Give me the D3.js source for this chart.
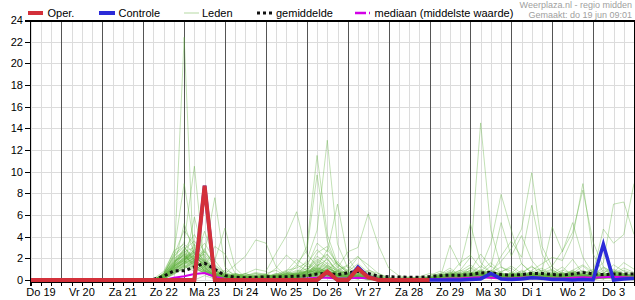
<!DOCTYPE html>
<html>
<head>
<meta charset="utf-8">
<script src="https://cdn.jsdelivr.net/npm/d3@7"></script>
<style>
  body { margin: 0; background: #fff; }
  svg { display: block; font-family: "Liberation Sans", Arial, sans-serif; }
</style>
</head>
<body>
<div id="chart"></div>
<script>
(function () {
  'use strict';

  // dagen op de x-as (label op 12:00)
  var dagLabels = ['Do 19', 'Vr 20', 'Za 21', 'Zo 22', 'Ma 23', 'Di 24', 'Wo 25', 'Do 26',
    'Vr 27', 'Za 28', 'Zo 29', 'Ma 30', 'Di 1', 'Wo 2', 'Do 3'];
  var yTicks = [0, 2, 4, 6, 8, 10, 12, 14, 16, 18, 20, 22, 24];

  // 6-uurs neerslag (mm), oper en controle vanaf do 19 06:00
  var oper = [0, 0, 0, 0, 0, 0, 0, 0, 0, 0, 0, 0, 0, 0, 0, 0,
    0, 8.7, 0, 0, 0, 0, 0, 0, 0, 0, 0, 0, 0, 0.77, 0, 0,
    1.05, 0.25, 0, 0, 0, 0, 0, 0];
  var controle = [0, 0, 0, 0, 0, 0, 0, 0, 0, 0, 0, 0, 0, 0, 0, 0,
    0, 8.7, 0, 0, 0, 0, 0, 0, 0, 0, 0, 0, 0, 0.7, 0, 0,
    1.2, 0.3, 0, 0, 0, 0, 0, 0, 0, 0, 0, 0.05, 0.1, 0.6, 0.1, 0.05,
    0.1, 0.2, 0.15, 0.05, 0.05, 0, 0.05, 0, 3.3, 0, 0.1, 0.15];

  // gemiddelde, mediaan en leden vanaf zo 22 06:00
  var gemiddelde = [0.05, 0.35, 0.85, 0.85, 1.2, 1.55, 1.0, 0.4, 0.25, 0.2, 0.25, 0.3,
    0.28, 0.3, 0.35, 0.4, 0.55, 0.6, 0.5, 0.65, 0.8, 0.6, 0.35, 0.3,
    0.28, 0.25, 0.25, 0.3, 0.4, 0.45, 0.45, 0.5, 0.65, 0.7, 0.5, 0.45,
    0.5, 0.6, 0.6, 0.5, 0.45, 0.55, 0.7, 0.55, 0.5, 0.55, 0.55, 0.55];
  var mediaan = [0, 0, 0.2, 0.35, 0.55, 0.65, 0.3, 0.1, 0.05, 0.05, 0.05, 0.05,
    0.05, 0.1, 0.1, 0.15, 0.2, 0.2, 0.15, 0.15, 0.2, 0.15, 0.1, 0.05,
    0.05, 0, 0.05, 0.1, 0.1, 0.15, 0.15, 0.2, 0.25, 0.2, 0.15, 0.15,
    0.2, 0.25, 0.2, 0.15, 0.15, 0.2, 0.25, 0.2, 0.25, 0.3, 0.25, 0.2];
  var leden = [
    [0,0.3,1.2, 22.4,0,0.4,0.1, 0,0.2,0.1,0, 0,0.1,0.3,0.2, 0.4,1.1,0.6,0.2, 0.1,0.5,0.3,0, 0,0,0.1,0, 0,0.1,0.3,0.5, 0.4,0.9,0.3,0.1, 0.2,0.6,1.3,0.4, 0.1,0.3,0.7,0.2, 0,0.4,0.9,0.5, 0.3],
    [0,0.6,2.1, 3.5,10.5,1.2,0.3, 0.1,0,0.3,0.2, 0.1,0,0.4,0.6, 0.8,2.2,1.5,0.4, 0.2,0.3,0.1,0, 0,0.1,0,0, 0.2,0.4,0.1,0, 0.3,0.8,1.6,0.7, 0.4,0.2,0.5,0.3, 0.6,1.2,0.4,0.1, 0,0.2,0.6,1.1, 0.7],
    [0.1,0.8,2.6, 8.9,3.1,0.6,0.2, 0,0.1,0,0.2, 0.3,0.5,0.2,0.1, 0,0.6,1.3,0.9, 0.5,0.2,0,0, 0.1,0,0,0.2, 0.1,0.3,0.7,0.4, 0.2,0.1,0.5,0.8, 1.1,0.4,0.2,0, 0.3,0.8,1.9,0.6, 0.2,0.1,0.3,0.2, 0.4],
    [0,0.4,1.5, 2.8,4.2,2.5,7.6, 1.2,0.3,0.1,0, 0,0.2,0.6,0.3, 0.2,0.4,0.9,1.7, 0.8,0.3,0.2,0.1, 0,0,0,0, 0,0.2,0.1,0.4, 1.2,0.6,0.3,0.2, 0,0.3,0.8,0.5, 0.2,0.1,0.6,1.3, 0.5,0.2,0.8,0.4, 0.2],
    [0,0.2,0.9, 1.6,2.3,3.4,1.8, 4.8,1.1,0.2,0, 0.1,0.3,0.1,0.6, 1.4,0.7,2.1,0.5, 0.3,0.9,0.4,0.1, 0,0.2,0.3,0.1, 0,0,0.2,0.6, 0.8,0.3,0.1,0.4, 0.6,1.5,0.7,0.2, 0.1,0.5,0.3,0.2, 0.4,1.1,0.5,0.2, 0.1],
    [0,0.1,0.6, 1.1,1.8,0.9,0.4, 0.6,1.4,2.2,3.7, 3.4,1.2,0.4,0.2, 0.3,0.8,0.5,0.2, 0.1,0.4,0.2,0, 0,0.1,0,0, 0.1,0.3,0.8,0.3, 0.2,0.5,0.9,0.3, 0.1,0.2,0.6,0.9, 0.4,0.2,0.1,0.3, 0.8,0.5,0.2,0.1, 0],
    [0,0.5,1.8, 2.2,1.5,2.9,1.1, 0.4,0.2,0.6,1.0, 0.8,2.5,4.1,6.3, 2.4,1.3,0.6,0.8, 0.4,0.2,0.1,0, 0,0.2,0,0, 0,0.1,0.4,0.2, 0.5,0.3,0.7,1.2, 0.6,0.4,0.2,0.1, 0.3,0.6,0.4,0.2, 0.1,0.3,0.5,0.9, 0.6],
    [0,0.3,1.0, 1.9,2.6,1.4,0.5, 0.2,0.1,0,0.2, 0.3,0.1,0.5,1.2, 3.1,11.5,4.2,1.5, 0.6,0.2,0.3,0.1, 0,0,0.1,0.3, 0.2,0.5,1.1,0.4, 0.3,0.2,0.6,0.4, 0.2,0.9,0.5,0.3, 0.8,0.4,0.3,0.2, 0.1,0.2,0.4,0.3, 0.2],
    [0,0.2,0.7, 1.3,0.8,1.6,0.9, 0.3,0,0.2,0.4, 0.6,0.9,0.3,0.7, 1.8,4.6,12.9,3.3, 1.1,0.5,0.2,0, 0.1,0,0,0, 0,0.3,0.2,0.1, 0.4,1.0,0.5,0.2, 0.1,0.3,0.4,0.7, 1.0,0.3,0.5,0.4, 0.2,0.6,1.4,0.8, 0.5],
    [0,0.4,1.3, 2.5,1.1,0.7,0.3, 0.1,0.3,0.6,0.2, 0.4,1.1,2.3,1.5, 2.7,9.7,3.6,1.2, 0.5,0.3,0.1,0, 0,0,0.2,0.1, 0,0.1,0.5,0.9, 0.6,0.4,0.2,0.5, 0.3,0.2,0.7,1.1, 0.4,0.2,0.8,0.5, 0.3,0.9,0.6,0.2, 0.1],
    [0,0.1,0.8, 1.7,3.3,2.0,0.8, 0.5,0.2,0.1,0, 0.2,0.4,0.8,1.9, 1.2,3.4,2.6,7.0, 2.1,0.6,0.2,0.1, 0,0.1,0,0, 0.2,0.3,0.1,0.2, 0.7,0.5,1.3,0.6, 0.2,0.1,0.3,0.6, 0.9,0.5,0.2,0.1, 0,0.3,0.7,1.6, 1.0],
    [0,0.2,1.1, 2.0,2.8,1.3,0.6, 0.3,0.5,0.2,0.1, 0,0.3,0.6,1.4, 0.9,1.8,2.4,1.1, 2.6,3.0,6.1,3.2, 1.1,0.4,0.2,0, 0.1,0.2,0.6,0.3, 0.2,0.8,0.4,0.3, 0.5,0.3,0.2,0.4, 0.2,0.7,0.3,0.5, 0.2,0.1,0.4,0.3, 0.2],
    [0,0.6,2.4, 3.1,1.7,0.9,0.3, 0.2,0,0.4,0.7, 0.5,0.2,0.1,0.4, 1.5,2.8,1.9,0.9, 1.4,2.2,1.0,0.4, 0.2,0.3,0.1,0, 0,0.1,3.2,1.3, 5.2,1.6,0.7,0.3, 0.2,0.5,0.3,0.2, 0.4,0.2,0.5,0.8, 0.6,0.3,0.2,0.1, 0.3],
    [0,0.3,1.4, 2.4,1.9,1.0,0.5, 0.2,0.4,0.1,0, 0.1,0.2,0.5,0.9, 0.6,1.2,0.8,0.4, 0.3,0.5,0.9,0.6, 0.2,0.1,0,0.1, 0.3,0.2,0.5,0.9, 2.1,14.5,4.6,1.2, 0.8,0.4,0.6,0.3, 0.2,0.5,0.9,0.4, 0.3,0.2,0.6,0.4, 0.3],
    [0,0.2,0.9, 1.4,2.1,1.5,0.7, 0.3,0.1,0,0.2, 0.4,0.3,0.1,0.2, 0.5,1.6,2.3,1.4, 0.7,0.4,0.2,0.1, 0,0,0.1,0.2, 0.4,0.8,0.5,1.6, 2.3,1.1,3.4,7.9, 4.6,1.5,0.6,0.3, 0.1,0.4,0.2,0.6, 0.9,0.5,0.3,0.2, 0.4],
    [0,0.1,0.5, 1.2,1.9,2.7,1.3, 0.6,0.3,0.2,0.1, 0.2,0.6,0.4,0.3, 0.8,0.5,1.1,0.7, 0.4,0.3,0.5,0.2, 0.1,0,0.2,0.3, 0.6,0.4,0.2,0.5, 0.9,2.4,1.2,5.3, 2.2,4.1,1.8,0.7, 0.3,0.2,0.4,0.3, 0.5,1.2,0.7,0.4, 0.2],
    [0,0.4,1.6, 2.9,2.2,1.8,0.9, 0.4,0.1,0.3,0.6, 0.3,0.1,0.2,0.5, 0.7,0.9,0.4,0.3, 0.2,0.1,0.4,0.2, 0,0.1,0,0, 0.1,0.3,0.7,0.4, 0.3,0.6,0.8,1.7, 2.9,4.7,9.9,3.1, 1.2,0.6,0.4,0.3, 0.2,0.4,0.3,0.6, 0.4],
    [0,0.2,1.2, 1.8,1.4,0.8,0.4, 0.2,0.5,0.3,0.1, 0,0.2,0.7,0.4, 0.3,0.6,1.4,0.8, 0.5,0.2,0.1,0, 0.1,0,0,0.1, 0.2,0.1,0.3,0.8, 1.4,0.7,0.5,2.2, 3.6,2.1,6.9,2.4, 0.8,0.3,0.2,0.5, 0.3,0.2,0.1,0.3, 0.2],
    [0,0.5,2.0, 2.6,3.0,1.7,0.6, 0.3,0.2,0,0.3, 0.5,0.4,0.2,0.1, 0.4,0.8,0.5,0.9, 0.6,0.3,0.1,0, 0,0,0.1,0, 0.1,0.2,0.1,0.4, 0.6,0.3,0.5,0.2, 0.4,0.7,1.2,0.8, 4.9,2.6,5.3,2.1, 0.6,0.3,0.8,0.5, 0.3],
    [0,0.3,1.1, 1.5,2.0,2.4,1.2, 0.5,0.3,0.1,0, 0.2,0.3,0.6,0.5, 0.9,0.7,1.2,0.6, 0.3,0.4,0.2,0.1, 0,0.1,0.2,0, 0.3,0.6,0.4,0.2, 0.5,0.9,0.6,0.4, 0.3,0.2,0.9,1.5, 2.1,1.8,3.9,8.9, 2.4,0.7,0.4,0.2, 0.1],
    [0,0.2,0.8, 1.3,1.1,1.9,0.8, 0.3,0.1,0.2,0.4, 0.3,0.1,0.2,0.6, 0.5,0.3,0.7,0.4, 0.2,0.6,0.3,0.1, 0,0,0,0.1, 0.2,0.4,0.9,0.5, 0.7,0.4,0.2,0.3, 0.6,0.3,0.5,0.8, 1.3,2.7,4.4,8.3, 3.5,1.2,0.6,0.3, 0.2],
    [0,0.4,1.3, 2.1,1.6,1.1,0.5, 0.2,0.3,0.1,0, 0.1,0.3,0.2,0.4, 0.6,1.0,0.4,0.2, 0.5,0.3,0.1,0.2, 0,0.1,0,0, 0,0.2,0.3,0.6, 0.4,0.2,0.7,0.5, 0.3,0.6,0.4,0.2, 0.5,0.9,0.6,0.3, 0.8,1.6,7.0,7.2, 4.2],
    [0,0.1,0.6, 1.0,1.7,0.9,0.3, 0.1,0.2,0.4,0.2, 0.3,0.5,0.2,0.1, 0.4,0.6,0.9,0.5, 0.3,0.2,0.4,0.3, 0.1,0,0,0, 0.1,0.3,0.2,0.1, 0.5,0.3,0.4,0.6, 0.2,0.4,0.3,0.5, 0.7,0.4,0.9,1.4, 0.7,4.7,3.4,4.2, 8.9],
    [0,0.3,1.5, 2.7,2.1,1.4,0.7, 0.3,0.1,0.2,0.5, 0.4,0.2,0.3,0.2, 0.3,0.7,0.5,0.4, 0.2,0.3,0.1,0, 0,0.1,0.1,0, 0.2,0.1,0.4,0.7, 1.1,0.5,0.3,0.2, 0.4,0.2,0.3,0.4, 0.6,0.3,0.5,0.4, 0.3,0.7,1.0,0.6, 0.4],
    [0,0.2,1.0, 1.6,2.4,1.2,0.4, 0.2,0.6,0.3,0.1, 0.1,0.4,0.8,0.5, 1.1,1.9,1.3,0.6, 0.4,0.2,0.1,0, 0,0,0,0.1, 0.1,0.2,0.6,0.3, 0.3,0.6,0.9,0.5, 0.2,0.1,0.4,0.6, 0.3,0.5,0.2,0.1, 0.2,0.4,0.3,0.2, 0.1],
    [0,0.5,1.7, 2.3,1.3,0.8,0.5, 0.6,0.3,0.1,0.2, 0.2,0.1,0.4,0.7, 0.8,2.5,3.1,1.4, 0.9,0.5,0.3,0.1, 0,0.1,0,0, 0,0.1,0.2,0.3, 0.2,0.4,0.3,0.7, 1.3,0.6,0.3,0.2, 0.1,0.3,0.6,0.9, 0.4,0.2,0.1,0.2, 0.3],
    [0,0.3,1.3, 1.9,2.5,1.6,0.9, 0.4,0.2,0.5,0.3, 0.2,0.3,0.1,0.3, 0.5,1.4,0.9,0.6, 0.8,1.5,0.7,0.3, 0.1,0,0.1,0, 0.1,0.4,0.3,0.2, 0.6,1.3,0.7,0.4, 0.3,0.5,0.7,0.3, 0.2,0.4,0.3,0.6, 1.0,0.5,0.3,0.4, 0.5],
    [0,0.1,0.7, 1.4,1.2,0.6,0.3, 0.2,0.1,0.3,0.2, 0.1,0.5,0.9,1.1, 1.6,0.9,0.6,0.3, 0.2,0.4,0.2,0.1, 0,0.1,0,0, 0.1,0.2,0.5,0.4, 0.3,0.2,0.5,0.3, 0.5,0.8,0.4,0.2, 0.3,0.2,0.4,0.3, 0.2,0.3,0.5,0.4, 0.2],
    [0,0.4,1.9, 2.8,3.6,2.2,1.0, 0.4,0.2,0.1,0, 0.2,0.2,0.3,0.5, 0.7,1.1,0.8,0.5, 0.3,0.6,0.5,0.2, 0.1,0,0,0, 0,0.3,0.2,0.5, 0.9,0.6,0.4,0.3, 0.5,0.4,0.6,0.3, 0.4,0.7,0.5,0.3, 0.6,0.4,0.3,0.2, 0.2],
    [0,0.2,0.9, 1.7,1.3,0.8,0.4, 0.9,0.5,0.3,0.2, 0.4,0.2,0.2,0.3, 0.4,0.6,1.0,0.7, 0.5,0.3,0.2,0.1, 0,0,0.1,0, 0.2,0.5,0.3,0.1, 0.4,0.7,0.3,0.2, 0.7,0.3,0.2,0.4, 0.5,0.3,0.7,0.4, 0.3,0.6,0.4,0.3, 0.4],
    [0,0.3,1.4, 2.0,2.7,1.8,0.6, 0.2,0.3,0.2,0.1, 0.3,0.6,0.4,0.2, 0.9,1.7,1.2,0.5, 0.4,0.2,0.1,0.2, 0.1,0.1,0,0, 0.1,0.2,0.4,0.6, 0.3,0.5,0.6,0.4, 0.2,0.4,0.5,0.3, 0.4,0.6,0.2,0.3, 0.5,0.3,0.2,0.1, 0.2],
    [0,0.6,2.2, 3.0,1.9,1.2,0.5, 0.3,0.1,0,0.1, 0.2,0.1,0.3,0.6, 0.8,1.3,1.9,0.8, 0.6,0.9,0.4,0.2, 0,0,0,0.1, 0.3,0.6,0.4,0.3, 0.5,0.4,0.2,0.3, 0.6,0.5,0.3,0.2, 0.3,0.4,0.8,0.6, 0.4,0.3,0.6,0.5, 0.3],
    [0,0.2,1.1, 1.8,1.5,2.6,1.4, 0.7,0.4,0.2,0.1, 0.1,0.3,0.5,0.3, 0.4,0.7,0.5,0.3, 0.2,0.1,0.3,0.2, 0,0,0,0, 0,0.2,0.5,0.3, 0.6,0.4,0.8,0.5, 0.3,0.6,0.4,0.3, 0.2,0.3,0.5,0.4, 0.3,0.5,0.8,0.6, 0.3],
    [0,0.4,1.2, 2.2,1.8,1.1,0.4, 0.2,0.4,0.6,0.3, 0.2,0.4,0.3,0.5, 0.6,1.0,0.7,0.4, 0.3,0.5,0.8,0.4, 0.2,0.1,0,0.1, 0.2,0.3,0.2,0.4, 0.7,0.5,0.4,0.2, 0.4,0.3,0.2,0.5, 0.6,0.4,0.3,0.2, 0.2,0.4,0.3,0.5, 0.4],
    [0,0.1,0.6, 1.2,1.0,0.7,0.3, 0.1,0.2,0.1,0, 0.3,0.2,0.1,0.2, 0.3,0.5,0.4,0.2, 0.1,0.3,0.2,0.1, 0,0,0,0, 0.1,0.1,0.2,0.3, 0.2,0.3,0.5,0.4, 0.3,0.2,0.4,0.2, 0.3,0.5,0.4,0.2, 0.1,0.2,0.4,0.3, 0.2],
    [0,0.3,1.0, 1.9,2.2,1.3,0.6, 0.3,0.2,0.4,0.6, 0.5,0.3,0.2,0.4, 0.7,0.9,1.6,1.0, 0.6,0.4,0.2,0.1, 0,0.1,0,0, 0.2,0.4,0.6,0.3, 0.4,0.3,0.2,0.6, 0.5,0.3,0.4,0.7, 0.4,0.2,0.3,0.5, 0.7,0.4,0.3,0.2, 0.3],
    [0,0.5,1.6, 2.4,1.7,0.9,0.5, 0.4,0.2,0.1,0.1, 0.2,0.4,0.6,0.3, 0.5,0.8,0.6,0.4, 0.4,1.2,0.6,0.3, 0.1,0,0,0.1, 0.2,0.3,0.5,0.7, 0.5,0.4,0.6,0.3, 0.2,0.3,0.6,0.4, 0.3,0.5,0.7,0.4, 0.3,0.2,0.4,0.6, 0.5],
    [0,0.2,0.8, 1.5,2.9,1.9,0.8, 0.4,0.3,0.2,0.3, 0.4,0.2,0.4,0.8, 1.0,0.6,0.9,0.5, 0.3,0.2,0.1,0, 0,0,0.1,0, 0.1,0.2,0.3,0.4, 0.6,0.8,0.5,0.3, 0.2,0.4,0.3,0.6, 0.4,0.3,0.2,0.3, 0.5,0.6,0.3,0.2, 0.1],
    [0,0.3,1.2, 2.1,1.4,0.8,0.3, 0.2,0.1,0.3,0.2, 0.1,0.2,0.1,0.3, 0.4,0.3,0.6,0.8, 1.3,0.7,0.3,0.1, 0,0.1,0,0, 0,0.2,0.3,0.2, 0.3,0.6,0.4,0.5, 0.6,0.3,0.2,0.3, 0.2,0.4,0.6,0.3, 0.4,0.3,0.5,0.4, 0.2],
    [0,0.4,1.5, 2.5,2.0,1.0,0.4, 0.3,0.6,0.4,0.2, 0.3,0.4,0.7,0.5, 0.6,1.5,1.1,0.6, 0.4,0.3,0.2,0.1, 0,0,0,0, 0.1,0.4,0.2,0.3, 0.4,0.3,0.7,0.6, 0.4,0.6,0.3,0.2, 0.5,0.3,0.4,0.7, 0.6,0.3,0.2,0.4, 0.3],
    [0,0.2,0.9, 1.6,1.1,0.6,0.3, 0.2,0.1,0,0.1, 0.2,0.1,0.3,0.4, 0.5,0.4,0.3,0.2, 0.2,0.3,0.4,0.2, 0.1,0,0,0, 0.2,0.3,0.1,0.2, 0.3,0.4,0.3,0.2, 0.3,0.5,0.4,0.3, 0.2,0.3,0.4,0.2, 0.3,0.4,0.3,0.2, 0.2],
    [0,0.5,2.3, 4.6,3.2,1.5,0.6, 0.5,0.3,0.2,0.1, 0.1,0.3,0.5,0.4, 0.6,0.9,0.8,0.5, 0.3,0.4,0.3,0.1, 0,0.1,0.1,0, 0.1,0.2,0.4,0.3, 0.5,0.7,0.4,0.3, 0.4,0.3,0.5,0.4, 0.3,0.6,0.4,0.5, 0.4,0.3,0.7,0.5, 0.4],
    [0,0.3,1.1, 5.2,2.4,1.2,0.5, 0.3,0.2,0.1,0, 0.2,0.1,0.2,0.3, 0.4,0.6,0.5,0.3, 0.2,0.4,0.2,0.1, 0,0,0,0.1, 0.3,0.2,0.3,0.4, 0.4,0.3,0.5,0.4, 0.2,0.4,0.3,0.2, 0.4,0.2,0.3,0.4, 0.3,0.5,0.4,0.3, 0.3],
    [0,0.2,0.7, 1.3,5.8,2.1,0.9, 0.4,0.2,0.3,0.2, 0.4,0.3,0.2,0.3, 0.5,0.8,0.6,0.4, 0.3,0.2,0.1,0, 0,0,0,0, 0.1,0.1,0.3,0.5, 0.4,0.6,0.3,0.2, 0.5,0.3,0.4,0.3, 0.3,0.4,0.5,0.3, 0.2,0.4,0.3,0.2, 0.1],
    [0,0.4,1.4, 2.3,1.6,4.5,1.8, 0.6,0.4,0.2,0.1, 0.2,0.2,0.4,0.6, 0.7,1.1,0.7,0.4, 0.5,0.6,0.3,0.1, 0,0.1,0,0, 0.2,0.3,0.4,0.3, 0.5,0.4,0.6,0.3, 0.3,0.5,0.4,0.4, 0.5,0.3,0.6,0.4, 0.3,0.6,0.4,0.3, 0.3],
    [0,0.6,2.7, 3.3,2.5,1.2,3.1, 2.4,0.6,0.3,0.2, 0.2,0.1,0.3,0.2, 0.3,0.5,0.4,0.3, 0.2,0.1,0.2,0.1, 0,0,0.1,0, 0,0.2,0.3,0.2, 0.3,0.4,0.2,0.3, 0.4,0.2,0.3,0.5, 0.3,0.4,0.2,0.3, 0.4,0.2,0.3,0.4, 0.2],
    [0,0.3,1.3, 1.8,2.6,1.6,0.7, 0.3,0.5,0.2,0.3, 0.5,0.3,0.5,0.4, 0.8,1.2,2.8,1.5, 0.7,0.4,0.2,0.1, 0,0.1,0,0, 0.1,0.2,0.5,0.4, 0.3,0.5,0.4,0.6, 0.4,0.3,0.5,0.3, 0.4,0.5,0.3,0.4, 0.5,0.4,0.3,0.4, 0.3],
    [0,0.2,1.0, 1.7,1.2,0.7,0.3, 0.2,0.1,0.3,0.4, 0.3,0.2,0.1,0.2, 0.4,0.3,0.6,0.5, 0.9,2.1,1.4,0.6, 0.2,0.1,0,0, 0.1,0.3,0.2,0.1, 0.2,0.3,0.4,0.3, 0.2,0.3,0.2,0.4, 0.3,0.2,0.4,0.3, 0.2,0.3,0.5,0.3, 0.2],
    [0,0.5,1.7, 2.6,1.9,1.1,0.4, 0.3,0.2,0.1,0.2, 0.2,0.4,0.3,0.2, 0.5,0.7,0.5,0.4, 0.6,0.3,0.2,0.1, 0,0,0,0, 0.2,0.4,0.3,0.2, 0.4,0.5,0.3,0.4, 0.3,0.4,0.6,0.5, 0.4,0.3,0.5,0.6, 0.4,0.3,0.2,0.3, 0.4],
    [0,0.3,1.2, 2.0,1.6,0.9,0.4, 0.2,0.3,0.2,0.1, 0.1,0.2,0.2,0.3, 0.4,0.5,0.3,0.2, 0.3,0.2,0.1,0, 0,0,0,0, 0.1,0.2,0.1,0.3, 0.3,0.4,0.2,0.3, 0.2,0.3,0.4,0.2, 0.3,0.4,0.3,0.2, 0.2,0.3,0.4,0.3, 0.2]
  ];

  var width = 635;
  var height = 300;
  var stap = 6 * 3600 * 1000;
  var startOper = Date.UTC(2025, 5, 19, 6);
  var startLeden = Date.UTC(2025, 5, 22, 6);
  var eind = Date.UTC(2025, 6, 4, 0);

  var x = d3.scaleUtc().domain([startOper, eind]).range([30.8, 634]);
  var y = d3.scaleLinear().domain([0, 24]).range([280, 20]);

  var svg = d3.select('#chart').append('svg')
    .attr('width', width).attr('height', height)
    .attr('viewBox', [0, 0, width, height]);

  var zesUur = d3.utcHour.every(6).range(startOper, eind + 1);
  var dagen = d3.utcDay.range(Date.UTC(2025, 5, 20), eind);

  // raster
  var grid = svg.append('g').attr('shape-rendering', 'crispEdges');
  grid.selectAll('line.v').data(zesUur).join('line')
    .attr('class', 'v')
    .attr('x1', function (d) { return Math.round(x(d)) + 0.5; })
    .attr('x2', function (d) { return Math.round(x(d)) + 0.5; })
    .attr('y1', 20).attr('y2', 280)
    .attr('stroke', '#dcdcdc');
  grid.selectAll('line.h').data(yTicks).join('line')
    .attr('class', 'h')
    .attr('x1', 30).attr('x2', 634)
    .attr('y1', function (d) { return Math.round(y(d)) + 0.5; })
    .attr('y2', function (d) { return Math.round(y(d)) + 0.5; })
    .attr('stroke', '#dcdcdc');
  grid.selectAll('line.d').data(dagen).join('line')
    .attr('class', 'd')
    .attr('x1', function (d) { return Math.round(x(d)) + 0.5; })
    .attr('x2', function (d) { return Math.round(x(d)) + 0.5; })
    .attr('y1', 20).attr('y2', 280)
    .attr('stroke', '#555');

  var lijn = function (start) {
    return d3.line()
      .x(function (d, i) { return x(start + i * stap); })
      .y(function (d) { return y(d); });
  };

  // leden
  svg.append('g')
    .attr('fill', 'none')
    .attr('stroke', 'rgb(95,175,60)')
    .attr('stroke-opacity', 0.38)
    .attr('stroke-width', 1)
    .selectAll('path').data(leden).join('path')
    .attr('d', lijn(startLeden));

  svg.append('path').datum(mediaan)
    .attr('fill', 'none').attr('stroke', '#d200e6').attr('stroke-width', 2)
    .attr('d', lijn(startLeden));

  svg.append('path').datum(gemiddelde)
    .attr('fill', 'none').attr('stroke', '#111').attr('stroke-width', 3)
    .attr('stroke-dasharray', '3,3')
    .attr('d', lijn(startLeden));

  svg.append('path').datum(controle)
    .attr('fill', 'none').attr('stroke', '#2b2bd8').attr('stroke-width', 3.5)
    .attr('d', lijn(startOper));

  svg.append('path').datum(oper)
    .attr('fill', 'none').attr('stroke', '#d3303a').attr('stroke-width', 4)
    .attr('d', lijn(startOper));

  // kaders en assen
  var kader = svg.append('g').attr('stroke', '#000').attr('shape-rendering', 'crispEdges');
  kader.append('line').attr('x1', 25).attr('x2', 634).attr('y1', 20.5).attr('y2', 20.5).attr('stroke-width', 2);
  kader.append('line').attr('x1', 30.5).attr('x2', 30.5).attr('y1', 20).attr('y2', 286);
  kader.append('line').attr('x1', 634.5).attr('x2', 634.5).attr('y1', 20).attr('y2', 283);
  kader.append('line').attr('x1', 30).attr('x2', 635).attr('y1', 282.5).attr('y2', 282.5);
  kader.selectAll('line.yt').data(yTicks).join('line')
    .attr('class', 'yt')
    .attr('x1', 25).attr('x2', 30)
    .attr('y1', function (d) { return Math.round(y(d)) + 0.5; })
    .attr('y2', function (d) { return Math.round(y(d)) + 0.5; });
  kader.selectAll('line.xt').data(zesUur).join('line')
    .attr('class', 'xt')
    .attr('x1', function (d) { return Math.round(x(d)) + 0.5; })
    .attr('x2', function (d) { return Math.round(x(d)) + 0.5; })
    .attr('y1', 282).attr('y2', 286);

  svg.append('g')
    .attr('font-size', 11).attr('fill', '#000').attr('text-anchor', 'end')
    .selectAll('text').data(yTicks).join('text')
    .attr('x', 23).attr('y', function (d) { return y(d) + 4; })
    .text(function (d) { return d; });

  svg.append('g')
    .attr('font-size', 11).attr('fill', '#000').attr('text-anchor', 'middle')
    .selectAll('text').data(dagLabels).join('text')
    .attr('x', function (d, i) { return x(Date.UTC(2025, 5, 19 + i, 12)); })
    .attr('y', 296)
    .text(function (d) { return d; });

  // legenda
  var legenda = svg.append('g').attr('font-size', 11).attr('fill', '#000');
  var item = function (x1, x2, kleur, breedte, dash, tekstX, tekst) {
    legenda.append('line').attr('x1', x1).attr('x2', x2).attr('y1', 13).attr('y2', 13)
      .attr('stroke', kleur).attr('stroke-width', breedte).attr('stroke-dasharray', dash);
    legenda.append('text').attr('x', tekstX).attr('y', 17).text(tekst);
  };
  item(28, 43, '#d3303a', 4, null, 47.5, 'Oper.');
  item(99, 115, '#2b2bd8', 4, null, 118.5, 'Controle');
  item(184, 199, '#b5d9a3', 1, null, 202, 'Leden');
  item(257, 272, '#111', 3, '3,3', 276, 'gemiddelde');
  item(355, 370, '#d200e6', 2.5, '11,3,1,5', 374.5, 'mediaan (middelste waarde)');

  var kop = svg.append('g').attr('font-size', 9).attr('fill', '#a0a0a0').attr('text-anchor', 'end');
  kop.append('text').attr('x', 632).attr('y', 8).text('Weerplaza.nl - regio midden');
  kop.append('text').attr('x', 632).attr('y', 17.5).text('Gemaakt: do 19 jun 09:01');
})();
</script>
</body>
</html>
